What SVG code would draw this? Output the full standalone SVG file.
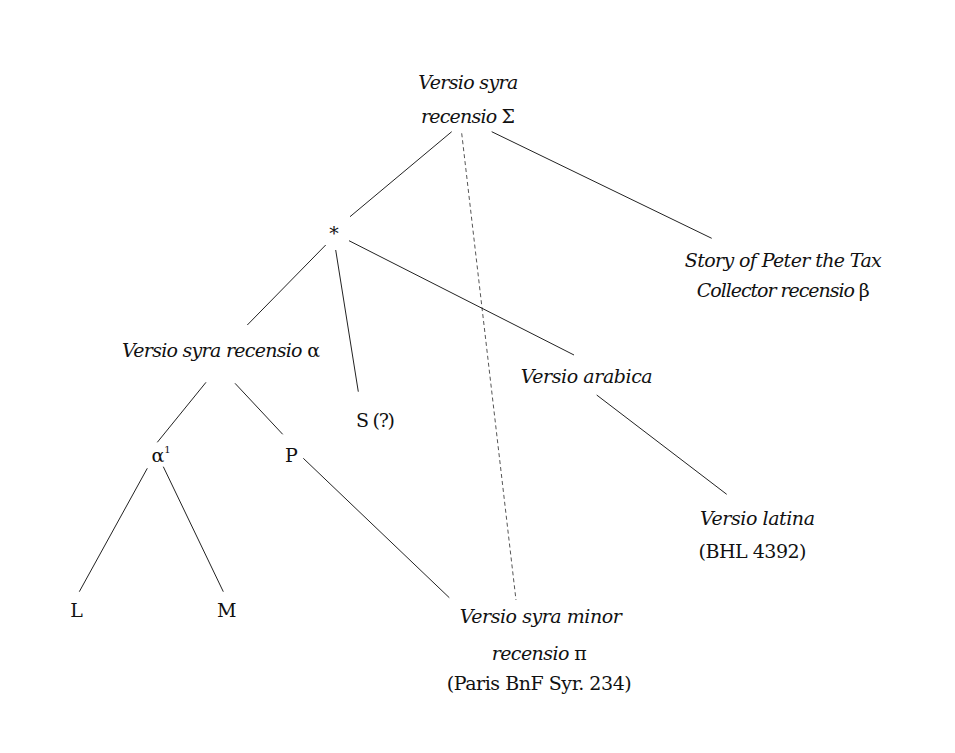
<svg xmlns="http://www.w3.org/2000/svg" width="955" height="753" viewBox="0 0 955 753">
<style>
text{font-family:"DejaVu Serif","Liberation Serif",serif;font-size:19px;fill:#111}
.i{font-style:italic}
.m{text-anchor:middle}
.g{font-style:normal}
#edges line{stroke:#222;stroke-width:1}
#edges line.d{stroke:#555;stroke-dasharray:4 3}
</style>
<rect width="955" height="753" fill="#fff"/>
<g id="edges">
<line x1="451.7" y1="131.7" x2="350" y2="216.7"/>
<line class="d" x1="461.7" y1="133.3" x2="516" y2="600"/>
<line x1="491.7" y1="131.7" x2="711.7" y2="238.3"/>
<line x1="325.7" y1="245" x2="247.3" y2="325"/>
<line x1="335.7" y1="250" x2="358.3" y2="391.7"/>
<line x1="349" y1="240.7" x2="574" y2="355"/>
<line x1="206" y1="382.3" x2="157.3" y2="442.3"/>
<line x1="235" y1="383.3" x2="282.7" y2="434.3"/>
<line x1="147.3" y1="468.3" x2="79.3" y2="591.7"/>
<line x1="163.3" y1="466.7" x2="223.3" y2="591.7"/>
<line x1="303.3" y1="458.3" x2="449.3" y2="597.7"/>
<line x1="596.7" y1="395" x2="726.7" y2="494.3"/>
</g>
<g id="sigma">
<text class="i m" x="468.3" y="89.3" textLength="100">Versio syra</text>
<text class="i m" x="468" y="123.3" textLength="94">recensio <tspan class="g">Σ</tspan></text>
</g>
<g id="star"><text class="m" x="334" y="240" font-size="18">*</text></g>
<g id="beta">
<text class="i m" x="783.3" y="266.7" textLength="197">Story of Peter the Tax</text>
<text class="i m" x="783.3" y="297" textLength="173">Collector recensio <tspan class="g">β</tspan></text>
</g>
<g id="alpha"><text class="i m" x="221" y="356.7" textLength="198">Versio syra recensio <tspan class="g">α</tspan></text></g>
<g id="S"><text class="m" x="375.5" y="427" textLength="39">S (?)</text></g>
<g id="arabica"><text class="i m" x="586.7" y="383.3" textLength="132">Versio arabica</text></g>
<g id="alpha1"><text x="151.5" y="461.7">α<tspan font-size="10" dy="-9">1</tspan></text></g>
<g id="P"><text class="m" x="291.5" y="461.7">P</text></g>
<g id="latina">
<text class="i" x="700" y="524.5" textLength="115">Versio latina</text>
<text x="698.5" y="558" textLength="108">(BHL 4392)</text>
</g>
<g id="L"><text class="m" x="76.5" y="616.7">L</text></g>
<g id="M"><text class="m" x="226.7" y="616.7">M</text></g>
<g id="pi">
<text class="i m" x="540.8" y="623.3" textLength="162">Versio syra minor</text>
<text class="i m" x="539.2" y="660" textLength="95">recensio <tspan class="g">π</tspan></text>
<text class="m" x="539.2" y="690" textLength="185">(Paris BnF Syr. 234)</text>
</g>
</svg>
